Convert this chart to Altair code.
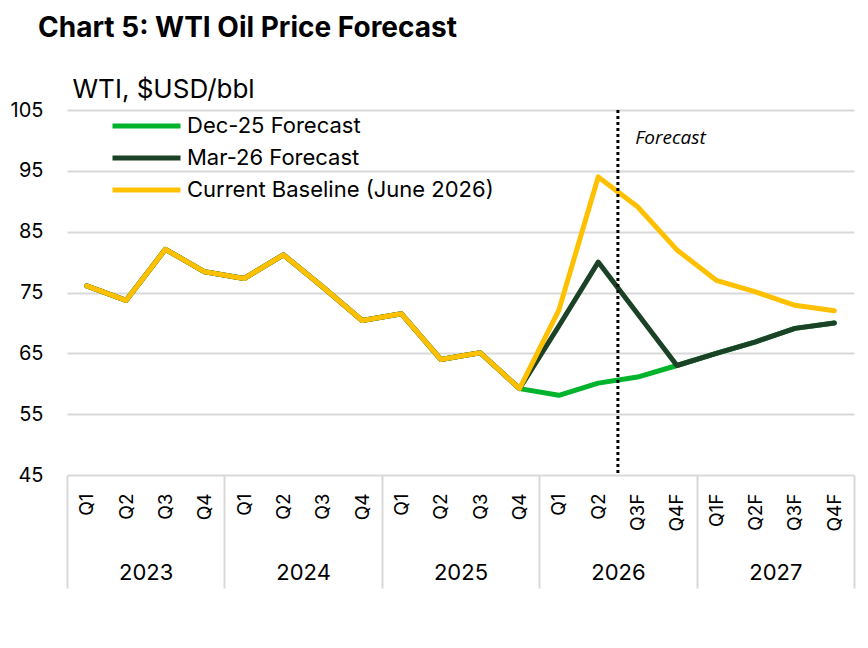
import altair as alt
import pandas as pd

quarters = ["Q1", "Q2", "Q3", "Q4", "Q1", "Q2", "Q3", "Q4", "Q1", "Q2", "Q3", "Q4",
            "Q1", "Q2", "Q3F", "Q4F", "Q1F", "Q2F", "Q3F", "Q4F"]
years = ["2023", "2024", "2025", "2026", "2027"]
year_centers = [1.5, 5.5, 9.5, 13.5, 17.5]
year_breaks = [-0.5, 3.5, 7.5, 11.5, 15.5, 19.5]
history = [76.1, 73.7, 82.1, 78.4, 77.3, 81.2, 75.9, 70.4, 71.5, 64.0, 65.1, 59.2]
dec25 = [58.1, 60.1, 61.1, 63.0, 65.0, 66.9, 69.1, 70.0]
mar26 = [69.5, 80.0, 71.5, 63.0, 65.0, 66.9, 69.1, 70.0]
baseline = [72.1, 94.0, 89.1, 82.0, 77.0, 75.1, 72.9, 72.0]
series_names = ["Dec-25 Forecast", "Mar-26 Forecast", "Current Baseline (June 2026)"]
colors = ["#00B32C", "#1B4226", "#FFC000"]
forecast_start = 13.5
y_ticks = [45, 55, 65, 75, 85, 95, 105]

rows = []
for name, fc in zip(series_names, [dec25, mar26, baseline]):
    for i, v in enumerate(history + fc):
        rows.append({"series": name, "idx": i, "value": v})
df = pd.DataFrame(rows)
one = pd.DataFrame({"label": ["Forecast"]})

FONT = "Inter"
x_scale = alt.Scale(domain=[-0.5, 19.5], nice=False, zero=False)
y_scale = alt.Scale(domain=[45, 105], nice=False, zero=False)

quarter_expr = "[" + ",".join('"%s"' % q for q in quarters) + "][datum.value]"
year_expr = "{" + ",".join('"%s":"%s"' % (c, y) for c, y in zip(year_centers, years)) + "}[''+datum.value]"

lines = alt.Chart(df).mark_line(strokeWidth=5, strokeJoin="round", strokeCap="round").encode(
    x=alt.X("idx:Q", scale=x_scale,
            axis=alt.Axis(orient="bottom", values=list(range(20)), labelExpr=quarter_expr,
                          labelAngle=270, ticks=False, domain=False, grid=False,
                          labelFontSize=19, labelPadding=18, labelFont=FONT,
                          labelColor="black", title=None, labelOverlap=False)),
    y=alt.Y("value:Q", scale=y_scale,
            axis=alt.Axis(values=y_ticks, grid=True, gridColor="#d9d9d9", gridWidth=2,
                          domain=False, ticks=False, labelFontSize=20, labelPadding=24,
                          labelFont=FONT, labelColor="black",
                          title="WTI, $USD/bbl", titleAngle=0, titleX=5, titleY=-13,
                          titleAlign="left", titleBaseline="alphabetic", titleFontSize=26,
                          titleFontWeight="normal", titleFont=FONT, titleColor="black")),
    color=alt.Color("series:N", sort=series_names,
                    scale=alt.Scale(domain=series_names, range=colors),
                    legend=alt.Legend(title=None, orient="none", legendX=43, legendY=0,
                                      symbolType="stroke", symbolSize=4624,
                                      symbolStrokeWidth=5, labelFontSize=22, labelFont=FONT,
                                      labelColor="black", clipHeight=32, rowPadding=0,
                                      labelOffset=4, labelLimit=0)),
    detail="series:N",
)

rule = alt.Chart(one).mark_rule(strokeDash=[3, 3], strokeWidth=3, color="black").encode(
    x=alt.X(datum=forecast_start, type="quantitative", scale=x_scale,
            axis=alt.Axis(orient="bottom", values=year_centers, labelExpr=year_expr,
                          ticks=False, domain=False, grid=False, labelFontSize=22,
                          labelFont=FONT, labelColor="black", labelPadding=87,
                          labelAngle=0, title=None)),
)

label = alt.Chart(one).mark_text(font="Open Sans", fontStyle="italic",
                                 fontWeight="normal", fontSize=19,
                                 align="left", baseline="middle", color="black").encode(
    text="label:N",
    x=alt.X(datum=13.94, type="quantitative", scale=x_scale,
            axis=alt.Axis(orient="bottom", values=year_breaks, labels=False, domain=False,
                          grid=False, ticks=True, tickSize=113, tickColor="#d9d9d9",
                          tickWidth=2, title=None)),
    y=alt.Y(datum=100.4, type="quantitative", scale=y_scale),
)

chart = alt.layer(lines, rule, label).resolve_axis(x="independent").properties(
    width=787, height=365,
    padding={"left": 59, "top": 102, "right": 6, "bottom": 150},
    autosize=alt.AutoSizeParams(type="none"),
    title=alt.TitleParams("Chart 5: WTI Oil Price Forecast", anchor="start", frame="group",
                          fontSize=28, fontWeight="bold", font=FONT, color="black",
                          dx=-29, offset=33),
).configure_view(strokeWidth=0)

chart.save("out.html", embed_options={"renderer": "svg", "actions": False})
